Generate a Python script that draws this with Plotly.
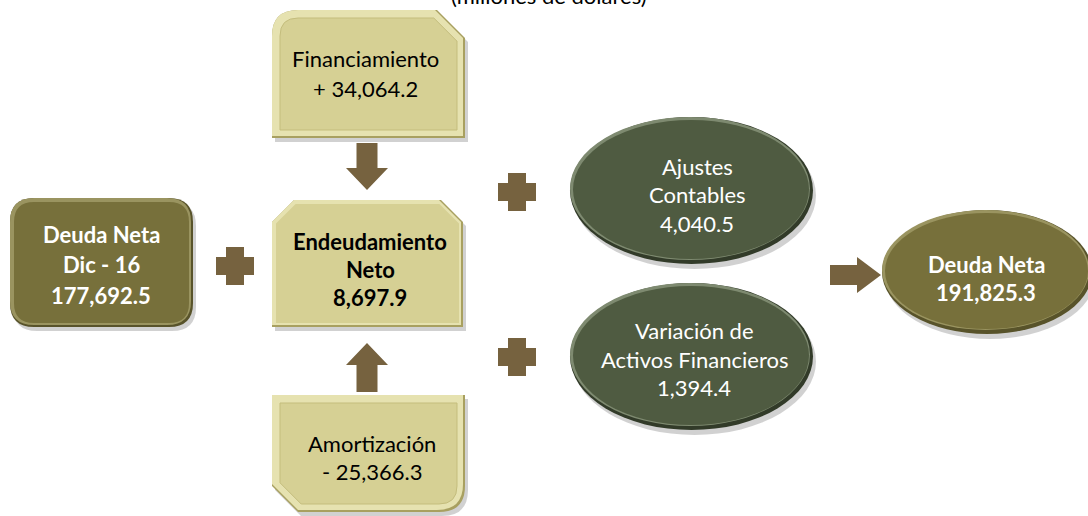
import plotly.graph_objects as go

# ---------------- data ----------------
title_text = "(millones de dólares)"
node_names = ["deuda_ini", "financiamiento", "endeudamiento", "amortizacion",
              "ajustes", "variacion", "deuda_fin"]
node_labels = [["Deuda Neta", "Dic - 16"], ["Financiamiento"], ["Endeudamiento", "Neto"],
               ["Amortización"], ["Ajustes", "Contables"], ["Variación de", "Activos Financieros"],
               ["Deuda Neta"]]
node_values = [177692.5, 34064.2, 8697.9, -25366.3, 4040.5, 1394.4, 191825.3]
node_signed = [False, True, False, True, False, False, False]

# ---------------- layout / style ----------------
W, H = 1088, 516
FONT = "Lato"
FS = 22
OLIVE = "#77703b"
OLIVE_DARK = "#58532a"
OLIVE_LIGHT = "#9a9460"
CREAM = "#d6d094"
CREAM_EDGE_D = "#a8a060"
CREAM_EDGE_L = "#e6e2b0"
GREEN = "#4f5b41"
GREEN_DARK = "#323b29"
GREEN_LIGHT = "#7e8a70"
BROWN = "#76623f"

shapes = []
annotations = []


def fmt(v, signed):
    s = f"{abs(v):,.1f}"
    if signed:
        return ("+ " if v >= 0 else "- ") + s
    return s if v >= 0 else "-" + s


def rect_path(x0, y0, x1, y1, tl=("r", 0), tr=("r", 0), br=("r", 0), bl=("r", 0)):
    def c(k):
        return k[1]
    p = f"M {x0 + c(tl)},{y0} L {x1 - c(tr)},{y0} "
    p += (f"Q {x1},{y0} {x1},{y0 + c(tr)} " if tr[0] == "r" else f"L {x1},{y0 + c(tr)} ")
    p += f"L {x1},{y1 - c(br)} "
    p += (f"Q {x1},{y1} {x1 - c(br)},{y1} " if br[0] == "r" else f"L {x1 - c(br)},{y1} ")
    p += f"L {x0 + c(bl)},{y1} "
    p += (f"Q {x0},{y1} {x0},{y1 - c(bl)} " if bl[0] == "r" else f"L {x0},{y1 - c(bl)} ")
    p += f"L {x0},{y0 + c(tl)} "
    p += (f"Q {x0},{y0} {x0 + c(tl)},{y0} " if tl[0] == "r" else f"L {x0 + c(tl)},{y0} ")
    return p + "Z"


def shrink(k, d):
    return (k[0], max(k[1] - d * (0.6 if k[0] == "s" else 1.0), 0))


def path_shape(path, fill, line=None, lw=0):
    d = dict(type="path", path=path, fillcolor=fill, layer="below",
             xref="x", yref="y")
    if line is None:
        d["line"] = dict(width=0)
    else:
        d["line"] = dict(color=line, width=lw)
    shapes.append(d)


def bevel_box(x0, y0, x1, y1, corners, face, edge_d, edge_l, inset, inner_line=None, shadow=True):
    tl, tr, br, bl = corners
    if shadow:
        path_shape(rect_path(x0 + 3, y0 + 4, x1 + 3, y1 + 4, tl, tr, br, bl), "rgba(0,0,0,0.18)")
    path_shape(rect_path(x0, y0, x1, y1, tl, tr, br, bl), edge_d)
    path_shape(rect_path(x0, y0, x1 - 2, y1 - 2, tl, tr, br, bl), edge_l)
    c = [shrink(k, inset) for k in corners]
    path_shape(rect_path(x0 + inset, y0 + inset, x1 - inset, y1 - inset, *c), face,
               inner_line, 1 if inner_line else 0)


def ellipse(x0, y0, x1, y1, face, dark, light):
    shapes.append(dict(type="circle", x0=x0 + 3, y0=y0 + 5, x1=x1 + 3, y1=y1 + 5,
                       fillcolor="rgba(0,0,0,0.18)", line=dict(width=0), layer="below"))
    shapes.append(dict(type="circle", x0=x0, y0=y0, x1=x1, y1=y1,
                       fillcolor=dark, line=dict(width=0), layer="below"))
    shapes.append(dict(type="circle", x0=x0, y0=y0, x1=x1 - 3, y1=y1 - 4,
                       fillcolor=light, line=dict(width=0), layer="below"))
    shapes.append(dict(type="circle", x0=x0 + 3, y0=y0 + 3, x1=x1 - 4, y1=y1 - 5,
                       fillcolor=face, line=dict(width=0), layer="below"))


def plus(cx, cy, size=38, th=18):
    h, t = size / 2, th / 2
    p = (f"M {cx - t},{cy - h} L {cx + t},{cy - h} L {cx + t},{cy - t} L {cx + h},{cy - t} "
         f"L {cx + h},{cy + t} L {cx + t},{cy + t} L {cx + t},{cy + h} L {cx - t},{cy + h} "
         f"L {cx - t},{cy + t} L {cx - h},{cy + t} L {cx - h},{cy - t} L {cx - t},{cy - t} Z")
    path_shape(p, BROWN)


def arrow_v(cx, y_tail, y_base, y_tip, sw=21, hw=42):
    p = (f"M {cx - sw / 2},{y_tail} L {cx + sw / 2},{y_tail} L {cx + sw / 2},{y_base} "
         f"L {cx + hw / 2},{y_base} L {cx},{y_tip} L {cx - hw / 2},{y_base} "
         f"L {cx - sw / 2},{y_base} Z")
    path_shape(p, BROWN)


def arrow_h(cy, x_tail, x_base, x_tip, sw=20, hw=36):
    p = (f"M {x_tail},{cy - sw / 2} L {x_base},{cy - sw / 2} L {x_base},{cy - hw / 2} "
         f"L {x_tip},{cy} L {x_base},{cy + hw / 2} L {x_base},{cy + sw / 2} "
         f"L {x_tail},{cy + sw / 2} Z")
    path_shape(p, BROWN)


def text_lines(cx, ys, lines, color, bold, size=FS):
    for y, t in zip(ys, lines):
        annotations.append(dict(x=cx, y=y, text=f"<b>{t}</b>" if bold else t, showarrow=False,
                                xref="x", yref="y", xanchor="center", yanchor="middle",
                                font=dict(family=FONT, size=size, color=color)))


# ---- geometry (pixel space) ----
bevel_box(10, 198, 193, 327, [("r", 24)] * 4, OLIVE, OLIVE_DARK, OLIVE_LIGHT, 4)
bevel_box(272, 10, 465, 138, [("r", 26), ("s", 28), ("r", 0), ("r", 0)],
          CREAM, CREAM_EDGE_D, CREAM_EDGE_L, 8, "#c4bd7d")
bevel_box(272, 200, 463, 327, [("s", 22), ("s", 22), ("r", 0), ("r", 0)],
          CREAM, CREAM_EDGE_D, CREAM_EDGE_L, 4)
bevel_box(272, 395, 465, 512, [("r", 0), ("r", 0), ("r", 26), ("s", 26)],
          CREAM, CREAM_EDGE_D, CREAM_EDGE_L, 8, "#c4bd7d")

ellipse(570, 117, 813, 264, GREEN, GREEN_DARK, GREEN_LIGHT)
ellipse(570, 283, 813, 430, GREEN, GREEN_DARK, GREEN_LIGHT)
ellipse(882, 210, 1092, 334, OLIVE, OLIVE_DARK, OLIVE_LIGHT)

plus(235, 266)
plus(517, 192)
plus(517, 357)

arrow_v(367, 143, 168, 190)
arrow_v(367, 392, 365, 343)
arrow_h(275, 830, 857, 881)

# ---- texts ----
text_pos = {
    "deuda_ini": (101, [234, 264, 295], "white", True),
    "financiamiento": (365, [58, 88], "black", False),
    "endeudamiento": (370, [241, 269, 297], "black", True),
    "amortizacion": (372, [443, 471], "black", False),
    "ajustes": (697, [166, 194, 223], "white", False),
    "variacion": (694, [330, 359, 387], "white", False),
    "deuda_fin": (986, [264, 292], "white", True),
}
for name, lbl, val, sg in zip(node_names, node_labels, node_values, node_signed):
    cx, ys, col, bold = text_pos[name]
    text_lines(cx, ys, lbl + [fmt(val, sg)], col, bold)

# subtitle, partially cut off at the very top as in the source image
annotations.append(dict(x=549 / W, y=1, text=title_text, showarrow=False, xref="paper",
                        yref="paper", xanchor="center", yanchor="middle", yshift=5,
                        font=dict(family=FONT, size=FS, color="black")))

fig = go.Figure()
fig.update_layout(
    width=W, height=H, margin=dict(l=0, r=0, t=0, b=0),
    paper_bgcolor="white", plot_bgcolor="white",
    xaxis=dict(range=[0, W], visible=False, fixedrange=True),
    yaxis=dict(range=[H, 0], visible=False, fixedrange=True),
    shapes=shapes, annotations=annotations, showlegend=False,
)
fig.write_html("out.html", config=dict(displayModeBar=False),
               post_script="document.body.style.margin='0';document.body.style.overflow='hidden';")
